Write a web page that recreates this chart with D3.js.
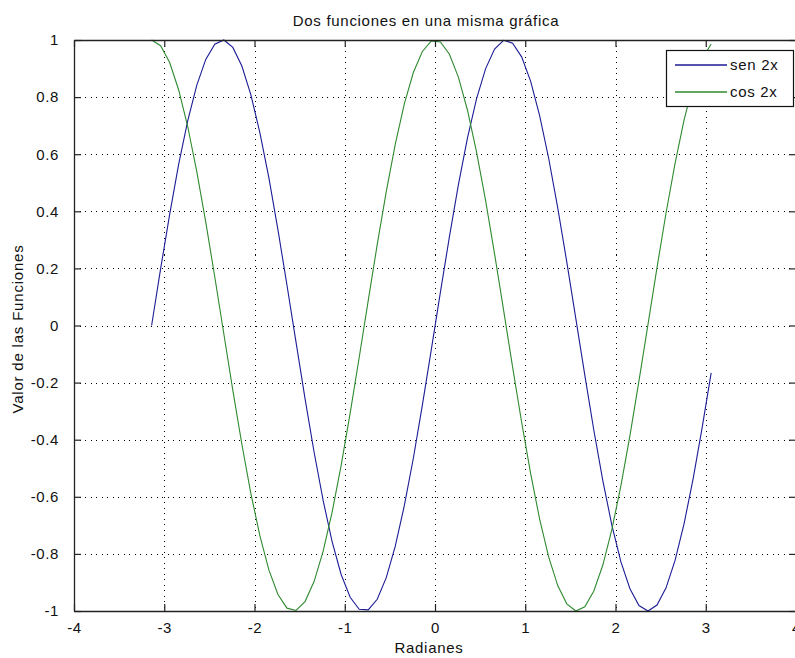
<!DOCTYPE html>
<html>
<head>
<meta charset="utf-8">
<script src="https://cdn.jsdelivr.net/npm/d3@7"></script>
<style>
  html, body { margin: 0; padding: 0; background: #fff; }
  svg { display: block; }
  text { font-family: "Liberation Sans", Arial, Helvetica, sans-serif; fill: #111; }
</style>
</head>
<body>
<svg id="chart" width="795" height="658"></svg>
<script>
// ---- data ----
const xValues = [-3.14,-3.04,-2.94,-2.84,-2.74,-2.64,-2.54,-2.44,-2.34,-2.24,
  -2.14,-2.04,-1.94,-1.84,-1.74,-1.64,-1.54,-1.44,-1.34,-1.24,
  -1.14,-1.04,-0.94,-0.84,-0.74,-0.64,-0.54,-0.44,-0.34,-0.24,
  -0.14,-0.04,0.06,0.16,0.26,0.36,0.46,0.56,0.66,0.76,
  0.86,0.96,1.06,1.16,1.26,1.36,1.46,1.56,1.66,1.76,
  1.86,1.96,2.06,2.16,2.26,2.36,2.46,2.56,2.66,2.76,
  2.86,2.96,3.06];
const sen2x = [0,0.199,0.389,0.565,0.717,0.841,0.932,0.985,1.000,0.974,
  0.909,0.808,0.675,0.516,0.335,0.141,-0.058,-0.256,-0.443,-0.612,
  -0.757,-0.872,-0.952,-0.994,-0.996,-0.959,-0.883,-0.773,-0.631,-0.465,
  -0.279,-0.083,0.117,0.311,0.494,0.657,0.794,0.899,0.968,0.999,
  0.989,0.941,0.855,0.734,0.585,0.412,0.223,0.025,-0.174,-0.367,
  -0.544,-0.700,-0.828,-0.922,-0.981,-1.000,-0.979,-0.919,-0.823,-0.694,
  -0.537,-0.358,-0.166];
const cos2x = [1,0.980,0.921,0.825,0.697,0.540,0.362,0.170,-0.029,-0.227,
  -0.416,-0.589,-0.737,-0.857,-0.942,-0.990,-0.998,-0.967,-0.897,-0.791,
  -0.654,-0.490,-0.307,-0.112,0.087,0.284,0.469,0.635,0.776,0.886,
  0.960,0.997,0.993,0.950,0.869,0.754,0.608,0.439,0.251,0.054,
  -0.146,-0.339,-0.519,-0.679,-0.811,-0.911,-0.975,-1.000,-0.985,-0.930,
  -0.839,-0.714,-0.561,-0.386,-0.194,0.004,0.203,0.394,0.568,0.720,
  0.844,0.934,0.986];
const xTicks = [-4,-3,-2,-1,0,1,2,3,4];
const yTicks = [-1,-0.8,-0.6,-0.4,-0.2,0,0.2,0.4,0.6,0.8,1];
const xTickLabels = ["-4","-3","-2","-1","0","1","2","3","4"];
const yTickLabels = ["-1","-0.8","-0.6","-0.4","-0.2","0","0.2","0.4","0.6","0.8","1"];
const seriesNames = ["sen 2x", "cos 2x"];
const seriesColors = ["#1c1c96", "#2f8a2f"];
const titleText = "Dos funciones en una misma gráfica";
const xLabel = "Radianes";
const yLabel = "Valor de las Funciones";

// ---- layout ----
const L = 74, R = 796, T = 40, B = 611;
const svg = d3.select("#chart");
const x = d3.scaleLinear().domain([-4, 4]).range([L, R]);
const y = d3.scaleLinear().domain([-1, 1]).range([B, T]);

// grid
const grid = svg.append("g").attr("stroke", "#000").attr("stroke-width", 1)
  .attr("stroke-dasharray", "1,4.5").attr("shape-rendering", "crispEdges");
grid.selectAll("line.gx").data(xTicks.slice(1, -1)).join("line")
  .attr("x1", d => Math.round(x(d)) + 0.5).attr("x2", d => Math.round(x(d)) + 0.5)
  .attr("y1", T).attr("y2", B);
grid.selectAll("line.gy").data(yTicks.slice(1, -1)).join("line")
  .attr("y1", d => Math.round(y(d)) + 0.5).attr("y2", d => Math.round(y(d)) + 0.5)
  .attr("x1", L).attr("x2", R);

// lines
const plot = svg.append("g");
const lineGen = vals => d3.line().x((d, i) => x(xValues[i])).y(d => y(d))(vals);
[sen2x, cos2x].forEach((vals, i) => {
  plot.append("path").attr("d", lineGen(vals))
    .attr("fill", "none").attr("stroke", seriesColors[i]).attr("stroke-width", 1.1);
});

// axes (inward ticks, MATLAB style)
const tk = 7;
const axB = svg.append("g").attr("transform", `translate(0,${B})`)
  .call(d3.axisBottom(x).tickValues(xTicks).tickSizeInner(-tk).tickSizeOuter(0).tickPadding(tk + 4)
    .tickFormat((d, i) => xTickLabels[i]));
const axT = svg.append("g").attr("transform", `translate(0,${T})`)
  .call(d3.axisTop(x).tickValues(xTicks).tickSizeInner(-tk).tickSizeOuter(0).tickFormat(""));
const axL = svg.append("g").attr("transform", `translate(${L},0)`)
  .call(d3.axisLeft(y).tickValues(yTicks).tickSizeInner(-tk).tickSizeOuter(0).tickPadding(tk + 8)
    .tickFormat((d, i) => yTickLabels[i]));
const axR = svg.append("g").attr("transform", `translate(${R},0)`)
  .call(d3.axisRight(y).tickValues(yTicks).tickSizeInner(-tk).tickSizeOuter(0).tickFormat(""));
[axB, axT, axL, axR].forEach(a => {
  a.selectAll("path.domain").attr("stroke", "#222").attr("stroke-width", 1.3);
  a.selectAll(".tick line").attr("stroke", "#222").attr("stroke-width", 1.2);
  a.selectAll(".tick text").attr("font-size", 15).attr("letter-spacing", 0.6)
    .attr("font-family", "Liberation Sans, Arial, sans-serif").attr("fill", "#111");
});

// titles
svg.append("text").attr("x", 426).attr("y", 26).attr("text-anchor", "middle")
  .attr("font-size", 15).attr("letter-spacing", 0.7).text(titleText);
svg.append("text").attr("x", 429).attr("y", 653).attr("text-anchor", "middle")
  .attr("font-size", 15).attr("letter-spacing", 0.7).text(xLabel);
svg.append("text").attr("transform", "translate(23,329) rotate(-90)").attr("text-anchor", "middle")
  .attr("font-size", 15).attr("letter-spacing", 0.8).text(yLabel);

// legend
const lg = svg.append("g");
lg.append("rect").attr("x", 666.5).attr("y", 50.5).attr("width", 127).attr("height", 56)
  .attr("fill", "#fff").attr("stroke", "#111").attr("stroke-width", 1.2);
seriesNames.forEach((name, i) => {
  const yy = 65 + i * 27;
  lg.append("line").attr("x1", 675).attr("x2", 727).attr("y1", yy).attr("y2", yy)
    .attr("stroke", seriesColors[i]).attr("stroke-width", 1.3);
  lg.append("text").attr("x", 730).attr("y", yy + 5).attr("font-size", 15)
    .attr("letter-spacing", 0.7).text(name);
});
</script>
</body>
</html>
